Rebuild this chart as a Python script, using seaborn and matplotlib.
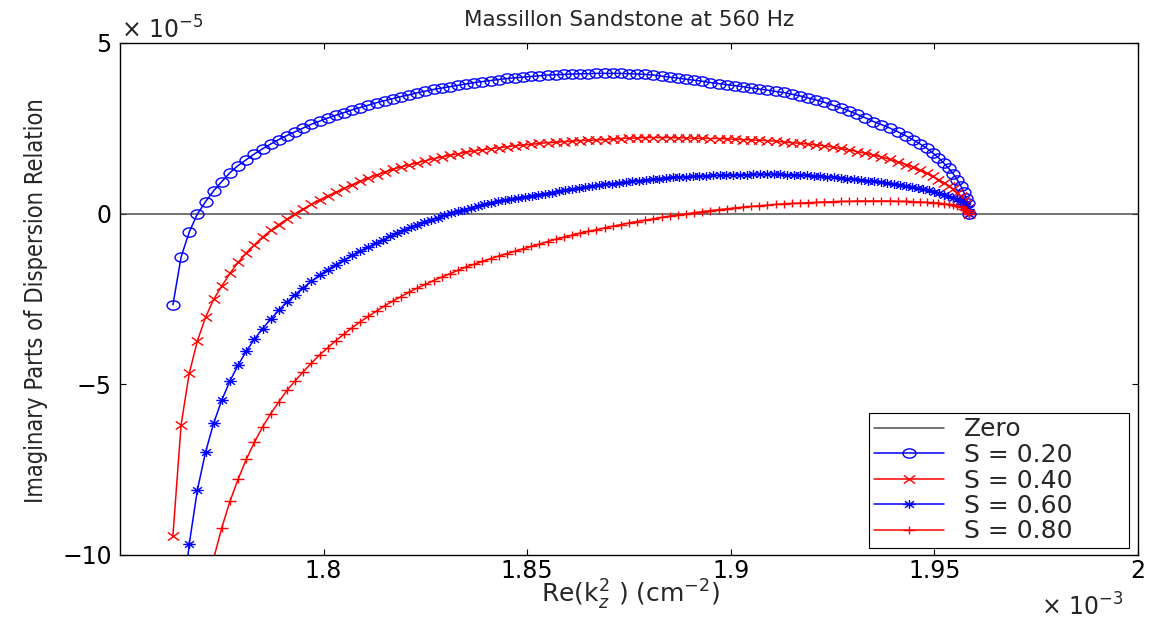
import numpy as np
import matplotlib
matplotlib.use("Agg")
import matplotlib.pyplot as plt
from matplotlib.path import Path
from matplotlib import font_manager as fm
import seaborn as sns

# ---------------- data (Re(k_z^2) in 1e-3 cm^-2, imaginary parts in 1e-5) ----------------
re_k2 = [
    1.763, 1.765, 1.767, 1.769, 1.771, 1.773, 1.775, 1.777, 1.779, 1.781,
    1.783, 1.785, 1.787, 1.789, 1.791, 1.793, 1.795, 1.797, 1.799, 1.801,
    1.803, 1.805, 1.807, 1.809, 1.811, 1.813, 1.815, 1.817, 1.819, 1.821,
    1.823, 1.825, 1.827, 1.829, 1.831, 1.833, 1.835, 1.837, 1.839, 1.841,
    1.843, 1.845, 1.847, 1.849, 1.851, 1.853, 1.855, 1.857, 1.859, 1.861,
    1.863, 1.865, 1.867, 1.869, 1.871, 1.873, 1.875, 1.877, 1.879, 1.881,
    1.883, 1.885, 1.887, 1.889, 1.891, 1.893, 1.895, 1.897, 1.899, 1.901,
    1.903, 1.905, 1.907, 1.909, 1.911, 1.913, 1.915, 1.917, 1.919, 1.921,
    1.923, 1.925, 1.927, 1.929, 1.931, 1.933, 1.935, 1.937, 1.939, 1.941,
    1.943, 1.9448, 1.9465, 1.9481, 1.9496, 1.9510, 1.9523, 1.9535, 1.9546, 1.9556,
    1.9565, 1.9572, 1.9578, 1.9582, 1.9585,
]

im_s20 = [
    -2.67, -1.27, -0.54, -0.01, 0.35, 0.67, 0.94, 1.20, 1.41, 1.58,
    1.75, 1.90, 2.04, 2.17, 2.29, 2.40, 2.51, 2.62, 2.71, 2.80,
    2.88, 2.96, 3.04, 3.11, 3.18, 3.25, 3.31, 3.37, 3.43, 3.48,
    3.54, 3.59, 3.64, 3.68, 3.72, 3.76, 3.80, 3.84, 3.87, 3.90,
    3.93, 3.96, 3.98, 4.00, 4.02, 4.04, 4.06, 4.07, 4.08, 4.09,
    4.10, 4.10, 4.11, 4.11, 4.11, 4.11, 4.10, 4.09, 4.08, 4.06,
    4.03, 4.00, 3.97, 3.94, 3.91, 3.88, 3.84, 3.81, 3.78, 3.75,
    3.72, 3.68, 3.65, 3.62, 3.58, 3.55, 3.50, 3.45, 3.39, 3.33,
    3.26, 3.18, 3.10, 3.01, 2.91, 2.81, 2.70, 2.61, 2.51, 2.40,
    2.28, 2.16, 2.04, 1.92, 1.78, 1.64, 1.48, 1.33, 1.17, 1.00,
    0.81, 0.64, 0.46, 0.30, 0.00,
]

im_s40 = [
    -9.43, -6.19, -4.68, -3.73, -3.04, -2.51, -2.12, -1.75, -1.43, -1.15,
    -0.91, -0.69, -0.49, -0.32, -0.16, 0.00, 0.14, 0.27, 0.40, 0.52,
    0.63, 0.74, 0.85, 0.95, 1.04, 1.13, 1.22, 1.30, 1.37, 1.43,
    1.49, 1.55, 1.61, 1.66, 1.71, 1.75, 1.80, 1.84, 1.87, 1.90,
    1.93, 1.96, 1.99, 2.01, 2.03, 2.06, 2.08, 2.09, 2.11, 2.12,
    2.14, 2.15, 2.16, 2.17, 2.18, 2.20, 2.21, 2.22, 2.23, 2.23,
    2.23, 2.23, 2.22, 2.22, 2.21, 2.21, 2.20, 2.20, 2.19, 2.18,
    2.17, 2.16, 2.15, 2.14, 2.12, 2.10, 2.08, 2.06, 2.04, 2.01,
    1.99, 1.95, 1.91, 1.87, 1.82, 1.77, 1.72, 1.66, 1.59, 1.52,
    1.44, 1.36, 1.27, 1.18, 1.09, 1.00, 0.91, 0.82, 0.72, 0.62,
    0.51, 0.41, 0.30, 0.18, 0.00,
]

re_k2_s60 = [
    1.763, 1.765, 1.767, 1.769, 1.771, 1.773, 1.775, 1.777, 1.779, 1.781,
    1.783, 1.785, 1.787, 1.789, 1.791, 1.793, 1.795, 1.797, 1.799, 1.801,
    1.803, 1.805, 1.807, 1.809, 1.811, 1.8129, 1.8147, 1.8164, 1.8181, 1.8197,
    1.8214, 1.8230, 1.8247, 1.8263, 1.8280, 1.8296, 1.8313, 1.8329, 1.8346, 1.8362,
    1.8379, 1.8395, 1.8412, 1.8428, 1.8445, 1.8461, 1.8478, 1.8494, 1.8511, 1.8527,
    1.8544, 1.8560, 1.8577, 1.8593, 1.8610, 1.8626, 1.8643, 1.8659, 1.8676, 1.8692,
    1.8709, 1.8725, 1.8742, 1.8758, 1.8775, 1.8791, 1.8808, 1.8824, 1.8841, 1.8857,
    1.8874, 1.8890, 1.8907, 1.8923, 1.8940, 1.8956, 1.8973, 1.8989, 1.9006, 1.9022,
    1.9039, 1.9055, 1.9072, 1.9088, 1.9105, 1.9121, 1.9138, 1.9154, 1.9171, 1.9187,
    1.9204, 1.9220, 1.9237, 1.9253, 1.9270, 1.9286, 1.9303, 1.9319, 1.9336, 1.9352,
    1.9368, 1.9384, 1.9400, 1.9415, 1.9430, 1.9445, 1.9459, 1.9473, 1.9486, 1.9499,
    1.9511, 1.9523, 1.9534, 1.9545, 1.9555, 1.9564, 1.9572, 1.9578, 1.9582, 1.9585,
]

im_s60 = [
    -14.5, -11.8, -9.68, -8.10, -6.99, -6.14, -5.46, -4.90, -4.44, -4.03,
    -3.68, -3.37, -3.09, -2.83, -2.59, -2.37, -2.17, -1.98, -1.80, -1.64,
    -1.49, -1.36, -1.22, -1.09, -0.98, -0.87, -0.76, -0.66, -0.56, -0.48,
    -0.40, -0.32, -0.25, -0.18, -0.12, -0.05, 0.01, 0.07, 0.12, 0.17,
    0.22, 0.27, 0.32, 0.36, 0.40, 0.44, 0.47, 0.50, 0.53, 0.56,
    0.59, 0.62, 0.65, 0.68, 0.71, 0.74, 0.77, 0.80, 0.83, 0.86,
    0.88, 0.91, 0.93, 0.95, 0.97, 0.99, 1.01, 1.03, 1.04, 1.06,
    1.07, 1.08, 1.09, 1.10, 1.11, 1.12, 1.12, 1.13, 1.14, 1.14,
    1.14, 1.15, 1.15, 1.15, 1.15, 1.15, 1.14, 1.14, 1.13, 1.12,
    1.11, 1.10, 1.08, 1.07, 1.05, 1.03, 1.01, 0.99, 0.97, 0.95,
    0.92, 0.90, 0.87, 0.84, 0.81, 0.78, 0.75, 0.71, 0.68, 0.64,
    0.60, 0.56, 0.52, 0.47, 0.42, 0.36, 0.29, 0.21, 0.13, 0.00,
]

re_k2_s80 = re_k2[3:]
im_s80 = [
    -12.3, -11.1, -10.1, -9.20, -8.43, -7.78, -7.20, -6.70, -6.25, -5.86,
    -5.51, -5.18, -4.90, -4.63, -4.38, -4.14, -3.93, -3.72, -3.53, -3.34,
    -3.17, -3.01, -2.85, -2.70, -2.56, -2.43, -2.30, -2.18, -2.07, -1.96,
    -1.86, -1.76, -1.66, -1.56, -1.48, -1.40, -1.32, -1.24, -1.17, -1.10,
    -1.03, -0.96, -0.89, -0.82, -0.75, -0.69, -0.63, -0.57, -0.52, -0.47,
    -0.42, -0.37, -0.32, -0.27, -0.23, -0.19, -0.15, -0.11, -0.07, -0.04,
    -0.01, 0.03, 0.06, 0.09, 0.12, 0.14, 0.17, 0.19, 0.21, 0.23,
    0.25, 0.27, 0.29, 0.30, 0.31, 0.32, 0.33, 0.34, 0.35, 0.36,
    0.36, 0.37, 0.37, 0.37, 0.37, 0.37, 0.36, 0.36, 0.35, 0.34,
    0.33, 0.32, 0.31, 0.29, 0.27, 0.25, 0.22, 0.19, 0.15, 0.11,
    0.06, 0.00,
]

zero_x = [1.75, 2.0]
zero_y = [0.0, 0.0]

series_labels = ["Zero", "S = 0.20", "S = 0.40", "S = 0.60", "S = 0.80"]
x_ticks = [1.8, 1.85, 1.9, 1.95, 2.0]
x_tick_labels = ["1.8", "1.85", "1.9", "1.95", "2"]
y_ticks = [-10, -5, 0, 5]
y_tick_labels = ["\u221210", "\u22125", "0", "5"]

# ---------------- style ----------------
sns.set_style("ticks")
plt.rcParams.update({
    "font.family": ["DejaVu Sans"],
    "mathtext.fontset": "dejavusans",
    "axes.linewidth": 1.0,
    "axes.edgecolor": "black",
    "xtick.color": "black",
    "ytick.color": "black",
})

W, H = 1151, 622
fig = plt.figure(figsize=(W / 100, H / 100), dpi=100)
fig.patch.set_facecolor("white")
ax = fig.add_axes([120 / W, 1 - 555 / H, 1018 / W, 512 / H])

# horizontally stretched MATLAB-like markers
SX = 1.4
MV, LN = Path.MOVETO, Path.LINETO
uc = Path.unit_circle()
m_circle = Path(uc.vertices * np.array([SX, 1.0]), uc.codes)
m_cross = Path([(-SX, -1), (SX, 1), (-SX, 1), (SX, -1)], [MV, LN, MV, LN])
m_plus = Path([(-SX, 0), (SX, 0), (0, -1), (0, 1)], [MV, LN, MV, LN])
d = 0.72
m_star = Path([(-SX, 0), (SX, 0), (0, -1), (0, 1),
               (-SX * d, -d), (SX * d, d), (-SX * d, d), (SX * d, -d)],
              [MV, LN] * 4)

BLUE, RED = "#0000ff", "#ff0000"
series = [
    (zero_x, zero_y, series_labels[0], "#4d4d4d", None, 0),
    (re_k2, im_s20, series_labels[1], BLUE, m_circle, 9.3),
    (re_k2, im_s40, series_labels[2], RED, m_cross, 8.2),
    (re_k2_s60, im_s60, series_labels[3], BLUE, m_star, 9.0),
    (re_k2_s80, im_s80, series_labels[4], RED, m_plus, 9.0),
]

for xs, ys, lab, col, mk, ms in series:
    kw = dict(x=np.asarray(xs, dtype=float), y=np.asarray(ys, dtype=float), ax=ax,
              color=col, linewidth=1.1, label=lab, sort=False, estimator=None,
              errorbar=None)
    if mk is not None:
        kw.update(marker=mk, markersize=ms, markerfacecolor="none",
                  markeredgecolor=col, markeredgewidth=1.0)
    sns.lineplot(**kw)

ax.set_xlim(1.75, 2.0)
ax.set_ylim(-10, 5)
ax.set_xticks(x_ticks)
ax.set_xticklabels(x_tick_labels)
ax.set_yticks(y_ticks)
ax.set_yticklabels(y_tick_labels)
ax.set_xlabel("")
ax.set_ylabel("")
ax.tick_params(direction="in", length=4.3, width=0.8, top=True, right=True,
               labelsize=17)
ax.tick_params(axis="x", pad=3.0)
ax.tick_params(axis="y", pad=6)
for sp in ax.spines.values():
    sp.set_visible(True)
    sp.set_color("black")
    sp.set_linewidth(1.0)
ax.grid(False)

leg = ax.legend(loc="lower left",
                bbox_to_anchor=((869 - 120) / 1018, (555 - 548) / 512, 260 / 1018, 138 / 512),
                mode="expand", borderaxespad=0, fontsize=18, labelspacing=0.06,
                handlelength=2.8, handletextpad=0.8, borderpad=0.18,
                frameon=True, fancybox=False, framealpha=1, edgecolor="black",
                numpoints=1)
leg.get_frame().set_linewidth(0.8)

# y-label font: prefer a condensed face (reference text is horizontally squeezed)
entries = fm.fontManager.ttflist
names = {f.name for f in entries}
has_dv_cond = any(f.name == "DejaVu Sans" and str(f.stretch) == "condensed"
                  for f in entries)
if "Liberation Sans Narrow" in names:
    ylab_kw = dict(family="Liberation Sans Narrow", fontsize=20)
elif has_dv_cond:
    ylab_kw = dict(family="DejaVu Sans", fontstretch="condensed", fontsize=17)
else:
    ylab_kw = dict(family="DejaVu Sans", fontsize=15)

fig.text(629 / W, 1 - 26 / H, "Massillon Sandstone at 560 Hz", ha="center",
         va="baseline", fontsize=15.5)
fig.text(36 / W, 1 - 301 / H, "Imaginary Parts of Dispersion Relation",
         rotation=90, ha="center", va="center", **ylab_kw)
fig.text(630 / W, 1 - 603 / H, r"Re(k$_z^2$ ) (cm$^{-2}$)", ha="center",
         va="baseline", fontsize=18)
fig.text(121 / W, 1 - 39 / H, "\u00d7 10$^{-5}$", ha="left", va="baseline",
         fontsize=17)
fig.text(1041 / W, 1 - 616 / H, "\u00d7 10$^{-3}$", ha="left", va="baseline",
         fontsize=17)

fig.savefig("out.png", dpi=100, facecolor="white")
